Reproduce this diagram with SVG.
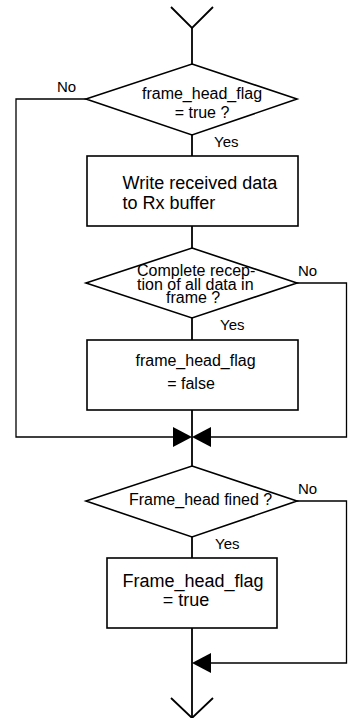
<svg xmlns="http://www.w3.org/2000/svg" width="348" height="718" viewBox="0 0 348 718">
  <style>
    .shape { fill: #ffffff; stroke: #000000; stroke-width: 1.6; }
    .flow { fill: none; stroke: #000000; stroke-width: 1.8; }
    .side { fill: none; stroke: #000000; stroke-width: 1.3; }
    .head { fill: #000000; stroke: none; }
    text { font-family: "Liberation Sans", Arial, sans-serif; fill: #000000; }
    .t16 { font-size: 16px; }
    .t18 { font-size: 18px; }
    .lbl { font-size: 15px; }
    .mid { text-anchor: middle; }
  </style>

  <!-- connectors -->
  <g id="connectors">
    <!-- entry chevron and main spine -->
    <polyline class="flow" points="171,7 192,28 213,7"/>
    <line class="flow" x1="192" y1="28" x2="192" y2="718"/>
    <polyline class="flow" points="171,698 192,718 213,698"/>
    <!-- "No" branch of first decision -->
    <polyline class="side" points="86,99 16,99 16,437 175,437"/>
    <!-- "No" branch of second decision -->
    <polyline class="side" points="297,283 346.5,283 346.5,437 209,437"/>
    <!-- "No" branch of third decision -->
    <polyline class="side" points="297,501 346.5,501 346.5,663 209,663"/>
    <!-- arrowheads -->
    <polygon class="head" points="173,427 192,437 173,447"/>
    <polygon class="head" points="211,427 192,437 211,447"/>
    <polygon class="head" points="211,653 192,663 211,673"/>
    <!-- branch labels -->
    <text class="lbl" x="57" y="92">No</text>
    <text class="lbl" x="214" y="147">Yes</text>
    <text class="lbl" x="298" y="276">No</text>
    <text class="lbl" x="220" y="330">Yes</text>
    <text class="lbl" x="298" y="494">No</text>
    <text class="lbl" x="215" y="549">Yes</text>
  </g>

  <!-- decision: flag check -->
  <g id="check_flag">
    <polygon class="shape" points="192,64 297,99 192,135 86,99"/>
    <text class="t16 mid" x="202" y="99">frame_head_flag</text>
    <text class="t16 mid" x="202" y="118">= true ?</text>
  </g>

  <!-- process: store data -->
  <g id="write_buffer">
    <rect class="shape" x="87" y="156" width="211" height="70"/>
    <text class="t18" x="122.5" y="189">Write received data</text>
    <text class="t18" x="122.5" y="209">to Rx buffer</text>
  </g>

  <!-- decision: full frame received -->
  <g id="check_complete">
    <polygon class="shape" points="192,248 297,283 192,318 86,283"/>
    <text class="t16" x="137" y="276">Complete recep-</text>
    <text class="t16" x="137" y="290">tion of all data in</text>
    <text class="t16" x="166" y="303">frame ?</text>
  </g>

  <!-- process: clear flag -->
  <g id="clear_flag">
    <rect class="shape" x="87" y="340" width="211" height="70"/>
    <text class="t16 mid" x="195.5" y="366">frame_head_flag</text>
    <text class="t16 mid" x="191" y="389">= false</text>
  </g>

  <!-- decision: header search -->
  <g id="check_head">
    <polygon class="shape" points="192,466 297,501 192,537 86,501"/>
    <text class="t16" x="129" y="505">Frame_head fined ?</text>
  </g>

  <!-- process: set flag -->
  <g id="set_flag">
    <rect class="shape" x="107" y="558" width="170" height="70"/>
    <text class="t18 mid" x="193" y="587">Frame_head_flag</text>
    <text class="t18 mid" x="186" y="606">= true</text>
  </g>
</svg>
